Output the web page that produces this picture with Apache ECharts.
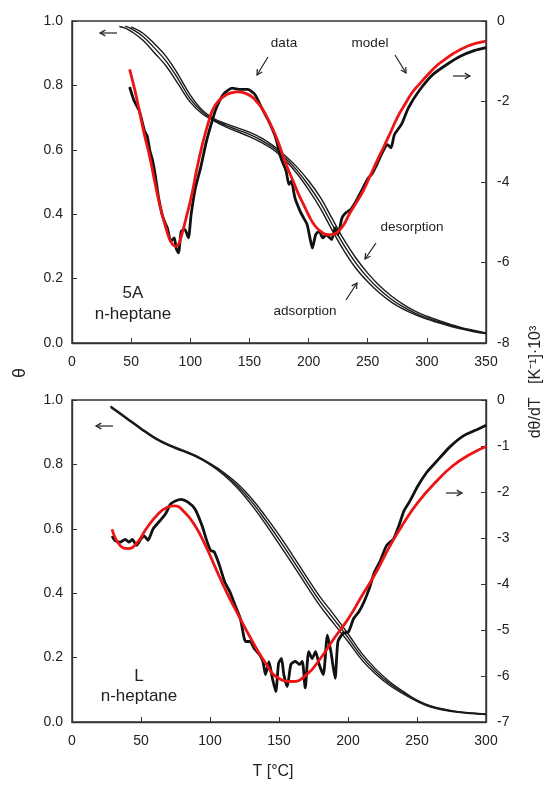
<!DOCTYPE html>
<html>
<head>
<meta charset="utf-8">
<title>n-heptane TPD</title>
<script src="https://cdn.jsdelivr.net/npm/echarts@6/dist/echarts.min.js"></script>
<style>
  html, body { margin: 0; padding: 0; background: #fff; }
  #chart { width: 547px; height: 785px; }
</style>
</head>
<body>
<div id="chart"></div>
<script>
// ---- top panel (5A, n-heptane) ----
// coverage curves, three runs (left axis, theta)
var tTheta5A = [40, 45, 50, 60, 70, 80, 90, 100, 110, 120, 130, 140, 150, 160, 170, 180, 190, 200,
  210, 220, 230, 240, 250, 260, 270, 280, 290, 300, 310, 320, 330, 340, 350];
var theta5A_a = [0.983, 0.978, 0.968, 0.940, 0.900, 0.858, 0.803, 0.748, 0.712, 0.690, 0.671, 0.656, 0.641, 0.623, 0.601, 0.568, 0.527, 0.476,
  0.418, 0.350, 0.286, 0.232, 0.190, 0.155, 0.127, 0.105, 0.088, 0.074, 0.063, 0.052, 0.043, 0.035, 0.029];
var theta5A_b = [null, 0.984, 0.976, 0.952, 0.915, 0.873, 0.818, 0.758, 0.718, 0.693, 0.676, 0.662, 0.648, 0.630, 0.607, 0.575, 0.537, 0.490,
  0.435, 0.368, 0.303, 0.248, 0.203, 0.166, 0.136, 0.112, 0.093, 0.078, 0.066, 0.055, 0.045, 0.037, 0.030];
var theta5A_c = [null, null, 0.982, 0.962, 0.928, 0.888, 0.832, 0.770, 0.724, 0.697, 0.681, 0.668, 0.655, 0.637, 0.613, 0.582, 0.547, 0.504,
  0.452, 0.386, 0.320, 0.264, 0.217, 0.178, 0.146, 0.120, 0.099, 0.083, 0.070, 0.058, 0.047, 0.039, 0.031];

// dtheta/dT measured (right axis, x10^3 1/K)
var tData5A = [48.7, 52.6, 57, 61.4, 63.5, 65.9, 68, 70.3, 73.2, 76.2, 78.5, 80.6, 83.6, 86.5, 88, 90, 92.4, 95.4, 98.4,
  100.7, 104.3, 108.7, 113, 117.6, 122, 128, 135.3, 142.7, 148.6, 154.5, 160.4, 166.3, 172.2, 176.6, 181, 183.4,
  185.5, 188.4, 192.9, 195.8, 198.8, 201.7, 203.2, 206, 209, 212, 215, 219.5, 222.4, 224.8, 228.3, 231.3, 235.7,
  240.1, 244.6, 247.5, 250.5, 253.4, 257.8, 262.3, 266.7, 269.7, 272.6, 278.5, 284.4, 293.3, 305.1, 316.9, 328.7, 340.5, 350];
var dData5A = [-1.64, -1.99, -2.24, -2.74, -2.85, -3.23, -3.45, -3.81, -4.39, -4.81, -5.00, -5.14, -5.47, -5.39, -5.64, -5.76, -5.22, -5.18, -5.39,
  -4.81, -4.15, -3.65, -3.07, -2.57, -2.16, -1.82, -1.67, -1.70, -1.70, -1.82, -2.16, -2.49, -2.90, -3.40, -3.73, -4.06,
  -3.98, -4.39, -4.73, -4.89, -5.06, -5.47, -5.64, -5.31, -5.22, -5.39, -5.31, -5.43, -5.14, -5.31, -4.89, -4.77, -4.68,
  -4.48, -4.23, -4.06, -3.90, -3.81, -3.56, -3.27, -3.07, -3.15, -2.82, -2.57, -2.16, -1.74, -1.33, -1.08, -0.87, -0.73, -0.66];

// dtheta/dT model
var tModel5A = [48.7, 53, 57, 61, 65.9, 70, 74.7, 78.5, 82.1, 85, 87.5, 90, 92.4, 96, 101.3, 105.5, 110.2, 115, 119, 124,
  130.8, 135, 140, 145, 151.5, 156, 160.4, 165, 169.2, 174, 178.1, 182.5, 187, 191.5, 195.8, 200, 204.7, 210, 216.5,
  221, 225.4, 230, 234.2, 240, 246, 252, 257.8, 264, 269.7, 275, 281.5, 287, 293.3, 300, 308, 315, 322.8, 334.6, 342, 350];
var dModel5A = [-1.20, -1.70, -2.24, -2.80, -3.40, -4.00, -4.64, -5.05, -5.39, -5.55, -5.60, -5.55, -5.35, -4.95, -4.31, -3.68, -3.07, -2.55, -2.20, -1.98,
  -1.83, -1.78, -1.76, -1.78, -1.87, -2.00, -2.16, -2.40, -2.65, -2.98, -3.32, -3.67, -3.98, -4.30, -4.56, -4.82, -5.06, -5.22, -5.31,
  -5.30, -5.22, -5.05, -4.81, -4.53, -4.23, -3.85, -3.48, -3.10, -2.74, -2.40, -2.07, -1.80, -1.58, -1.36, -1.12, -0.96, -0.80, -0.62, -0.55, -0.50];

// ---- bottom panel (L, n-heptane) ----
var tThetaL = [28, 40, 50, 60, 70, 80, 90, 100, 110, 120, 130, 140, 150, 160, 170, 180, 190, 200,
  210, 220, 230, 240, 250, 260, 270, 280, 290, 300];
var thetaL_a = [0.977, 0.940, 0.909, 0.880, 0.858, 0.841, 0.823, 0.799, 0.767, 0.726, 0.675, 0.616, 0.553, 0.489, 0.423, 0.359, 0.304, 0.250,
  0.193, 0.149, 0.114, 0.087, 0.064, 0.046, 0.036, 0.030, 0.026, 0.023];
var thetaL_b = [0.979, 0.942, 0.911, 0.882, 0.860, 0.843, 0.825, 0.801, 0.771, 0.733, 0.685, 0.628, 0.567, 0.503, 0.437, 0.373, 0.318, 0.262,
  0.203, 0.157, 0.120, 0.091, 0.066, 0.048, 0.038, 0.031, 0.027, 0.024];
var thetaL_c = [0.981, 0.944, 0.913, 0.884, 0.862, 0.845, 0.827, 0.803, 0.775, 0.740, 0.695, 0.640, 0.581, 0.517, 0.451, 0.387, 0.332, 0.274,
  0.213, 0.165, 0.126, 0.095, 0.068, 0.050, 0.040, 0.032, 0.028, 0.025];

var tDataL = [29, 31, 34.8, 38.6, 41.2, 43.7, 46.7, 50, 52.5, 55, 58.8, 63.9, 67.7, 71.5, 75.3, 79, 84, 89.1, 94.2, 98,
  100.5, 103, 106.8, 110.6, 114.4, 118.2, 122, 125.8, 129, 132, 135.9, 138.4, 140.2, 142.7, 145.2, 147.7, 149.7,
  151.8, 153.5, 156, 158.6, 161.9, 164.9, 166.9, 169, 171.5, 174, 176.5, 179.1, 182.1, 185.1, 187.6, 190.7, 192.7,
  196.5, 200.3, 204.1, 208, 211.6, 215.4, 219.2, 223, 228, 233, 236.9, 240.7, 244.4, 250.8, 257.1, 263.4, 273.5,
  283.6, 293.7, 300];
var dDataL = [-2.96, -3.05, -3.09, -3.03, -3.09, -3.03, -3.16, -3.02, -2.96, -3.05, -2.80, -2.62, -2.48, -2.26, -2.19, -2.16, -2.22, -2.37, -2.73, -3.09,
  -3.27, -3.30, -3.59, -3.95, -4.17, -4.46, -4.75, -5.25, -5.25, -5.40, -5.54, -5.69, -5.97, -5.69, -6.05, -6.34, -5.72,
  -5.62, -5.97, -6.23, -5.75, -5.68, -5.75, -5.68, -6.26, -5.47, -5.62, -5.47, -5.75, -5.97, -5.11, -5.47, -6.05, -5.25,
  -5.07, -5.04, -4.75, -4.60, -4.39, -4.10, -3.74, -3.52, -3.16, -3.02, -2.73, -2.40, -2.22, -1.86, -1.57, -1.36, -1.03,
  -0.78, -0.64, -0.55];

var tModelL = [29, 34.8, 40.7, 47.5, 53.8, 61.4, 69, 74, 81.6, 89.1, 96.7, 104.3, 111.9, 119.4, 129.5, 139.6, 149.7,
  159.8, 170, 180, 190, 200.3, 210.4, 220.5, 230.6, 240.7, 250.8, 263.4, 276, 288.6, 300];
var dModelL = [-2.81, -3.16, -3.23, -3.09, -2.80, -2.51, -2.33, -2.30, -2.44, -2.73, -3.16, -3.67, -4.17, -4.61, -5.18, -5.69, -6.05,
  -6.12, -5.97, -5.62, -5.18, -4.75, -4.24, -3.74, -3.16, -2.66, -2.22, -1.79, -1.43, -1.18, -1.01];

var FONT = 'Liberation Sans, Arial, sans-serif';
var INK = '#222';

function pairs(xs, ys) {
  var out = [];
  xs.forEach(function (x, i) { if (ys[i] != null) out.push([x, ys[i]]); });
  return out;
}

function xAx(grid, max) {
  return {
    type: 'value', gridIndex: grid, min: 0, max: max, interval: 50,
    axisLine: { show: true, onZero: false, lineStyle: { color: '#333', width: 1.4 } },
    axisTick: { inside: true, length: 5, lineStyle: { color: '#333' } },
    splitLine: { show: false },
    axisLabel: { color: INK, fontSize: 14, fontFamily: FONT, margin: 12 }
  };
}
function yLeft(grid) {
  return {
    type: 'value', gridIndex: grid, min: 0, max: 1, interval: 0.2,
    axisLine: { show: true, onZero: false, lineStyle: { color: '#333', width: 1.4 } },
    axisTick: { inside: true, length: 5, lineStyle: { color: '#333' } },
    splitLine: { show: false },
    axisLabel: { color: INK, fontSize: 14, fontFamily: FONT, margin: 9,
      formatter: function (v) { return v.toFixed(1); } }
  };
}
function yRight(grid, min, step) {
  return {
    type: 'value', gridIndex: grid, position: 'right', min: min, max: 0, interval: step,
    axisLine: { show: true, onZero: false, lineStyle: { color: '#333', width: 1.4 } },
    axisTick: { inside: true, length: 5, lineStyle: { color: '#333' } },
    splitLine: { show: false },
    axisLabel: { color: INK, fontSize: 14, fontFamily: FONT, margin: 11 }
  };
}

function thetaLine(xi, yi, xs, ys) {
  return { type: 'line', xAxisIndex: xi, yAxisIndex: yi, data: pairs(xs, ys), showSymbol: false, smooth: 0.4,
    lineStyle: { color: '#1a1a1a', width: 1.4 }, z: 2 };
}
function dataLine(xi, yi, xs, ys) {
  return { type: 'line', xAxisIndex: xi, yAxisIndex: yi, data: pairs(xs, ys), showSymbol: false, smooth: 0.2,
    lineStyle: { color: '#111', width: 2.8 }, z: 3 };
}
function modelLine(xi, yi, xs, ys) {
  return { type: 'line', xAxisIndex: xi, yAxisIndex: yi, data: pairs(xs, ys), showSymbol: false, smooth: 0.5,
    lineStyle: { color: '#ec1515', width: 2.8 }, z: 4 };
}

function txt(s, x, y, size, rot) {
  return { type: 'text', x: x, y: y, rotation: rot || 0, z: 10,
    style: { text: s, fontSize: size, fontFamily: FONT, fill: INK, align: 'center', verticalAlign: 'middle' } };
}
function arrow(x1, y1, x2, y2) {
  var a = Math.atan2(y2 - y1, x2 - x1), h = 6, s = 0.5;
  return { type: 'group', z: 10, children: [
    { type: 'line', shape: { x1: x1, y1: y1, x2: x2, y2: y2 }, style: { stroke: INK, lineWidth: 1.2 } },
    { type: 'polyline', shape: { points: [
        [x2 - h * Math.cos(a - s), y2 - h * Math.sin(a - s)], [x2, y2],
        [x2 - h * Math.cos(a + s), y2 - h * Math.sin(a + s)]] },
      style: { stroke: INK, lineWidth: 1.2, fill: null } }
  ] };
}

var chart = echarts.init(document.getElementById('chart'), null, { renderer: 'canvas' });

chart.setOption({
  animation: false,
  backgroundColor: '#fff',
  grid: [
    { left: 72, top: 21, width: 414, height: 322, show: true, borderColor: '#333', borderWidth: 1.4 },
    { left: 72, top: 400, width: 414, height: 322, show: true, borderColor: '#333', borderWidth: 1.4 }
  ],
  xAxis: [xAx(0, 350), xAx(1, 300)],
  yAxis: [yLeft(0), yRight(0, -8, 2), yLeft(1), yRight(1, -7, 1)],
  series: [
    thetaLine(0, 0, tTheta5A, theta5A_a),
    thetaLine(0, 0, tTheta5A, theta5A_b),
    thetaLine(0, 0, tTheta5A, theta5A_c),
    dataLine(0, 1, tData5A, dData5A),
    modelLine(0, 1, tModel5A, dModel5A),
    thetaLine(1, 2, tThetaL, thetaL_a),
    thetaLine(1, 2, tThetaL, thetaL_b),
    thetaLine(1, 2, tThetaL, thetaL_c),
    dataLine(1, 3, tDataL, dDataL),
    modelLine(1, 3, tModelL, dModelL)
  ],
  graphic: [
    txt('θ', 20, 373, 18, Math.PI / 2),
    txt('dθ/dT   [K⁻¹]·10³', 536, 382, 16, Math.PI / 2),
    txt('T [°C]', 273, 772, 16),
    // top panel notes
    txt('5A', 133, 293, 17),
    txt('n-heptane', 133, 314, 17),
    txt('data', 284, 43, 13.5),
    txt('model', 370, 43, 13.5),
    txt('desorption', 412, 227, 13.5),
    txt('adsorption', 305, 311, 13.5),
    arrow(117, 33, 100, 33),
    arrow(453, 76, 470, 76),
    arrow(268, 57, 257, 75),
    arrow(395, 55, 406, 73),
    arrow(376, 243, 365, 259),
    arrow(346, 300, 357, 283),
    // bottom panel notes
    txt('L', 139, 676, 17),
    txt('n-heptane', 139, 696, 17),
    arrow(113, 426, 96, 426),
    arrow(446, 493, 462, 493)
  ]
});
</script>
</body>
</html>
